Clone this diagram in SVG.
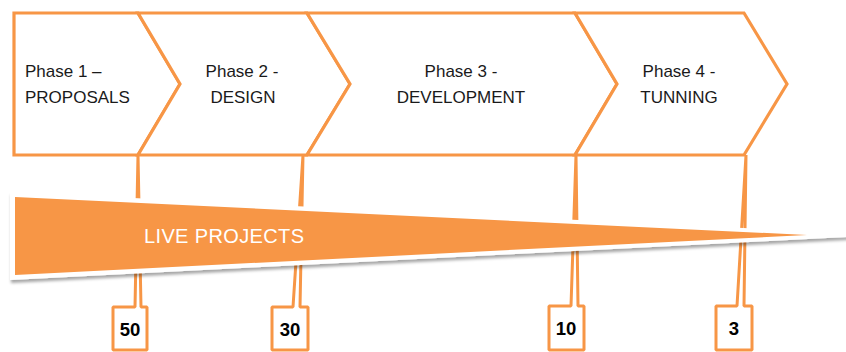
<svg xmlns="http://www.w3.org/2000/svg" width="846" height="352" viewBox="0 0 846 352">
<defs>
<style>
.chev{fill:#fff;stroke:#F79646;stroke-width:3.2;stroke-linejoin:miter}
.call{fill:#fff;stroke:#F79646;stroke-width:3;stroke-linejoin:bevel}
.ph{font-family:"Liberation Sans",Arial,sans-serif;font-size:17px;fill:#1a1a1a}
.num{font-family:"Liberation Sans",Arial,sans-serif;font-size:18.5px;font-weight:bold;fill:#000;text-anchor:middle}
.live{font-family:"Liberation Sans",Arial,sans-serif;font-size:20px;fill:#fff}
</style>
<filter id="sh" x="-5%" y="-30%" width="110%" height="160%">
<feDropShadow dx="1" dy="3" stdDeviation="1.5" flood-color="#000" flood-opacity="0.35"/>
</filter>
</defs>
<rect width="846" height="352" fill="#fff"/>
<g id="connectors">
<polygon class="call" points="113,307 135,307 138,155 141,307 147,307 147,350 113,350"/>
<polygon class="call" points="272,307 293,307 303,155 300,307 308,307 308,350 272,350"/>
<polygon class="call" points="549,306 571,306 576,155 578,306 584,306 584,350 549,350"/>
<polygon class="call" points="716,306 737,306 746,155 744,306 752,306 752,350 716,350"/>
</g>
<g id="phase1">
<polygon class="chev" points="14,13 138,13 180,84 138,155 14,155"/>
<text class="ph" x="25" y="77">Phase 1 –</text>
<text class="ph" x="25" y="103">PROPOSALS</text>
</g>
<g id="phase2">
<polygon class="chev" points="138,13 307,13 350,84 307,155 138,155 180,84"/>
<text class="ph" x="242" y="77" text-anchor="middle">Phase 2 -</text>
<text class="ph" x="243" y="103" text-anchor="middle">DESIGN</text>
</g>
<g id="phase3">
<polygon class="chev" points="307,13 575,13 617,84 575,155 307,155 350,84"/>
<text class="ph" x="461" y="77" text-anchor="middle">Phase 3 -</text>
<text class="ph" x="461" y="103" text-anchor="middle">DEVELOPMENT</text>
</g>
<g id="phase4">
<polygon class="chev" points="575,13 744,13 787,84 744,155 575,155 617,84"/>
<text class="ph" x="679" y="77" text-anchor="middle">Phase 4 -</text>
<text class="ph" x="679" y="103" text-anchor="middle">TUNNING</text>
</g>
<g id="live-projects">
<polygon points="10,192 884,235 10,280" fill="#fff" filter="url(#sh)"/>
<polygon points="15,197 807,235 15,275" fill="#F79646"/>
<text class="live" x="144" y="243" textLength="160">LIVE PROJECTS</text>
</g>
<g id="count50"><text class="num" x="130" y="336">50</text></g>
<g id="count30"><text class="num" x="290" y="336">30</text></g>
<g id="count10"><text class="num" x="566" y="335">10</text></g>
<g id="count3"><text class="num" x="734" y="335">3</text></g>
</svg>
